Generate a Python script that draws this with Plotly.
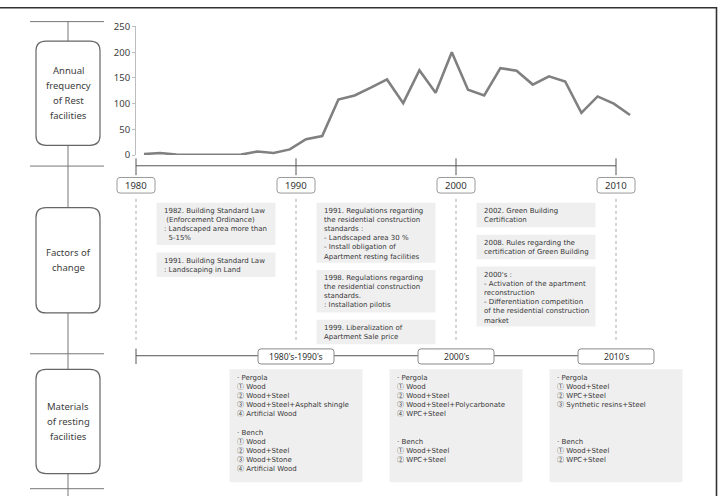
import plotly.graph_objects as go

W, H = 721, 502

# ---------------- data ----------------
years = list(range(1980, 2011))
frequency = [2, 4, 1, 0.5, 0.5, 0.5, 1, 7, 4, 11, 31, 37, 108, 116, 131, 147,
             101, 165, 121, 200, 127, 116, 169, 164, 137, 153, 143, 82, 114, 100, 78]
y_ticks = [0, 50, 100, 150, 200, 250]

decade_years = [1980, 1990, 2000, 2010]
decade_labels = ["1980", "1990", "2000", "2010"]

section_labels = [
    ["Annual", "frequency", "of Rest", "facilities"],
    ["Factors of", "change"],
    ["Materials", "of resting", "facilities"],
]

factor_centers = [1985, 1995, 2005]
factor_texts = [
    [
        ["1982. Building Standard Law", "\u00a0(Enforcement Ordinance)",
         ": Landscaped area more than", "\u00a0\u00a05-15%"],
        ["1991. Building Standard Law", ": Landscaping in Land"],
    ],
    [
        ["1991. Regulations regarding", "the residential construction", "standards :",
         "- Landscaped area 30 %", "- Install obligation of", "Apartment resting facilities"],
        ["1998. Regulations regarding", "the residential construction", "standards.",
         ": Installation pilotis"],
        ["1999. Liberalization of", "Apartment Sale price"],
    ],
    [
        ["2002. Green Building", "Certification"],
        ["2008. Rules regarding the", "certification of Green Building"],
        ["2000's :", "- Activation of the apartment", "reconstruction",
         "- Differentiation competition", "of the residential construction", "market"],
    ],
]

period_centers = [1990, 2000, 2010]
period_labels = ["1980's-1990's", "2000's", "2010's"]
material_texts = [
    ["· Pergola", "① Wood", "② Wood+Steel", "③ Wood+Steel+Asphalt shingle", "④ Artificial Wood",
     "", "· Bench", "① Wood", "② Wood+Steel", "③ Wood+Stone", "④ Artificial Wood"],
    ["· Pergola", "① Wood", "② Wood+Steel", "③ Wood+Steel+Polycarbonate", "④ WPC+Steel",
     "", "", "· Bench", "① Wood+Steel", "② WPC+Steel"],
    ["· Pergola", "① Wood+Steel", "② WPC+Steel", "③ Synthetic resins+Steel",
     "", "", "", "· Bench", "① Wood+Steel", "② WPC+Steel"],
]

# ---------------- styling / layout constants ----------------
LABEL_FONT = "Noto Sans, Noto Sans CJK KR, sans-serif"
BODY_FONT = "DejaVu Sans, Noto Sans CJK KR, sans-serif"
CIRCLE_FONT = "Noto Sans CJK KR"
BODY_SIZE = 7
LINE = BODY_SIZE * 1.3
TEXT_COLOR = "#383838"
BOX_FILL = "#efefef"
PX_PER_YEAR = (616 - 136) / 30.0   # timeline axis scale (x3)
TL_X0 = 136                         # pixel of first decade tick
CIRCLED = "①②③④"


def px(x):
    return x / W


def py(y):
    return 1 - y / H


def rrect(x0, x1, y0, y1, rx, ry):
    return (f"M {x0 + rx},{y0} L {x1 - rx},{y0} Q {x1},{y0} {x1},{y0 + ry} "
            f"L {x1},{y1 - ry} Q {x1},{y1} {x1 - rx},{y1} L {x0 + rx},{y1} "
            f"Q {x0},{y1} {x0},{y1 - ry} L {x0},{y0 + ry} Q {x0},{y0} {x0 + rx},{y0} Z")


def fmt_line(s):
    if not s:
        return "\u00a0"
    if s[0] in CIRCLED:
        return (f'<span style="font-family:{CIRCLE_FONT}">{s[0]}</span>' + s[1:])
    return s


fig = go.Figure()

# line chart
fig.add_trace(go.Scatter(x=years, y=frequency, mode="lines",
                         line=dict(color="#808080", width=2.6), cliponaxis=False,
                         hoverinfo="skip", xaxis="x", yaxis="y"))

TL = "#555555"
# timeline 1
fig.add_trace(go.Scatter(x=[decade_years[0], decade_years[-1]], y=[163, 163], mode="lines",
                         line=dict(color=TL, width=1), xaxis="x3", yaxis="y3",
                         hoverinfo="skip"))
fig.add_trace(go.Scatter(x=decade_years, y=[164] * len(decade_years), mode="markers",
                         marker=dict(symbol="line-ns-open", size=12, color=TL,
                                     line=dict(color=TL, width=1)),
                         xaxis="x3", yaxis="y3", hoverinfo="skip"))
# dotted guides
gx, gy = [], []
for yr in decade_years:
    gx += [yr, yr, None]
    gy += [197, 343, None]
fig.add_trace(go.Scatter(x=gx, y=gy, mode="lines",
                         line=dict(color="#a8a8a8", width=1, dash="dot"),
                         xaxis="x3", yaxis="y3", hoverinfo="skip"))
# timeline 2
fig.add_trace(go.Scatter(x=[decade_years[0], decade_years[-1]], y=[358, 358], mode="lines",
                         line=dict(color=TL, width=1), xaxis="x3", yaxis="y3",
                         hoverinfo="skip"))
fig.add_trace(go.Scatter(x=[decade_years[0]], y=[358.5], mode="markers",
                         marker=dict(symbol="line-ns-open", size=11, color=TL,
                                     line=dict(color=TL, width=1)),
                         xaxis="x3", yaxis="y3", hoverinfo="skip"))

shapes = []
annotations = []

# frame
shapes.append(dict(type="line", xref="paper", yref="paper", x0=0, x1=px(717),
                   y0=py(0.8), y1=py(0.8), line=dict(color="#333333", width=1.6)))
shapes.append(dict(type="line", xref="paper", yref="paper", x0=px(716.5), x1=px(716.5),
                   y0=py(0), y1=py(502), line=dict(color="#333333", width=1.6)))

# left column
shapes.append(dict(type="line", xref="paper", yref="paper", x0=px(68), x1=px(68),
                   y0=py(15), y1=py(502), line=dict(color="#777777", width=1), layer="below"))
for yy in [15, 163.3, 356, 494.5]:
    shapes.append(dict(type="line", xref="paper", yref="paper", x0=px(30), x1=px(104),
                       y0=py(yy), y1=py(yy), line=dict(color="#777777", width=1)))
left_boxes = [(35, 142), (206, 314), (372, 479)]
for (t, b), lines in zip(left_boxes, section_labels):
    shapes.append(dict(type="path", xref="paper", yref="paper",
                       path=rrect(px(36), px(100), py(t), py(b), 10 / W, -10 / H),
                       fillcolor="white", line=dict(color="#666666", width=1.2)))
    mid = (t + b) / 2
    n = len(lines)
    for i, s in enumerate(lines):
        yy = mid + (i - (n - 1) / 2) * 15.3
        annotations.append(dict(xref="paper", yref="paper", x=px(68), y=py(yy), text=s,
                                showarrow=False, xanchor="center", yanchor="middle",
                                font=dict(family=LABEL_FONT, size=9.5, color="#404040")))

# year label boxes
for yr, lab in zip(decade_years, decade_labels):
    hw = 19 / PX_PER_YEAR
    shapes.append(dict(type="path", xref="x3", yref="y3",
                       path=rrect(yr - hw, yr + hw, 175, 191, 3 / PX_PER_YEAR, 3),
                       fillcolor="white", line=dict(color="#9a9a9a", width=1)))
    annotations.append(dict(xref="x3", yref="y3", x=yr, y=183.5, text=lab, showarrow=False,
                            xanchor="center", yanchor="middle",
                            font=dict(family=LABEL_FONT, size=9.5, color="#333333")))


def text_block(x, y_first_center, lines):
    return dict(xref="x3", yref="y3", x=x, y=y_first_center - LINE / 2,
                text="<br>".join(fmt_line(s) for s in lines),
                showarrow=False, xanchor="left", yanchor="top", align="left", borderpad=0,
                font=dict(family=BODY_FONT, size=BODY_SIZE, color=TEXT_COLOR))


# factor boxes
for c, boxes in zip(factor_centers, factor_texts):
    hw = 59.5 / PX_PER_YEAR
    top = 201
    for lines in boxes:
        bottom = top + LINE * len(lines) + 7
        shapes.append(dict(type="rect", xref="x3", yref="y3", x0=c - hw, x1=c + hw,
                           y0=top, y1=bottom, fillcolor=BOX_FILL, line=dict(width=0),
                           layer="below"))
        annotations.append(text_block(c - hw + 6.3 / PX_PER_YEAR, top + 8, lines))
        top = bottom + 7.5

# period boxes + material boxes
for c, lab, lines in zip(period_centers, period_labels, material_texts):
    hw = 38 / PX_PER_YEAR
    shapes.append(dict(type="path", xref="x3", yref="y3",
                       path=rrect(c - hw, c + hw, 351, 366.5, 3 / PX_PER_YEAR, 3),
                       fillcolor="white", line=dict(color="#8a8a8a", width=1)))
    annotations.append(dict(xref="x3", yref="y3", x=c, y=359, text=lab, showarrow=False,
                            xanchor="center", yanchor="middle",
                            font=dict(family=LABEL_FONT, size=8.6, color="#333333")))
    mw = 66.5 / PX_PER_YEAR
    shapes.append(dict(type="rect", xref="x3", yref="y3", x0=c - mw, x1=c + mw,
                       y0=372, y1=488, fillcolor=BOX_FILL, line=dict(width=0), layer="below"))
    annotations.append(text_block(c - mw + 6.5 / PX_PER_YEAR, 380, lines))

x_left = 136
x_right = 640
yr_scale = (630 - 144) / 30.0
fig.update_layout(
    width=W, height=H, autosize=False,
    margin=dict(l=0, r=0, t=0, b=0),
    paper_bgcolor="white", plot_bgcolor="rgba(0,0,0,0)",
    showlegend=False,
    xaxis=dict(domain=[px(x_left), px(x_right)],
               range=[1980 - (144 - x_left) / yr_scale, 2010 + (x_right - 630) / yr_scale],
               visible=False, anchor="y", fixedrange=True),
    yaxis=dict(domain=[py(152), py(20)], range=[0, 250], tickvals=y_ticks,
               showline=True, linecolor="#bdbdbd", linewidth=1,
               ticks="outside", ticklen=3, tickcolor="#bdbdbd",
               tickfont=dict(family=LABEL_FONT, size=9.5, color="#404040"),
               showgrid=False, zeroline=False, anchor="x", fixedrange=True),
    xaxis3=dict(domain=[0, 1],
                range=[decade_years[0] - TL_X0 / PX_PER_YEAR,
                       decade_years[0] + (W - TL_X0) / PX_PER_YEAR],
                visible=False, anchor="y3", fixedrange=True),
    yaxis3=dict(domain=[0, 1], range=[H, 0], visible=False, anchor="x3", fixedrange=True),
    shapes=shapes,
    annotations=annotations,
)

fig.write_html("out.html", config={"displayModeBar": False})
